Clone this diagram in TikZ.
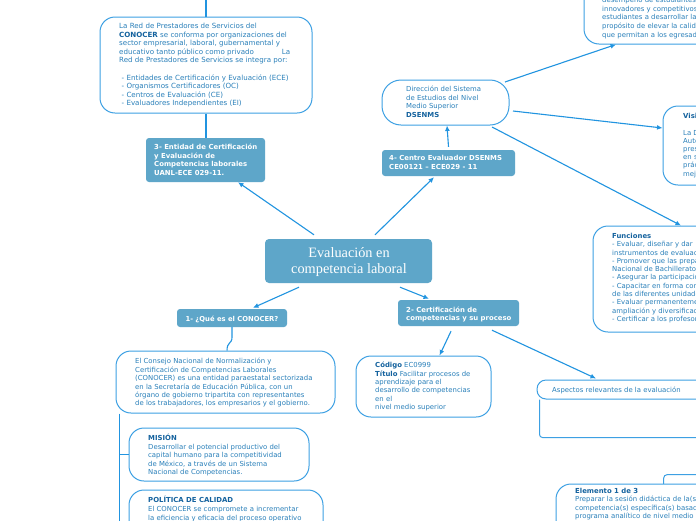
\documentclass[tikz,border=0pt]{standalone}
\usepackage{fontspec}
\setmainfont{DejaVu Sans}
\newfontfamily\titlefont{Liberation Serif}
\usetikzlibrary{arrows.meta}
\definecolor{txtc}{RGB}{42,128,186}
\definecolor{boldc}{RGB}{20,98,158}
\definecolor{bordc}{RGB}{61,160,227}
\definecolor{linec}{RGB}{33,148,224}
\definecolor{hdrc}{RGB}{94,166,201}
\begin{document}
\begin{tikzpicture}[x=1pt,y=-1pt,
  box/.style={draw=bordc, line width=1pt, fill=white, rounded corners=15pt, inner sep=0pt},
  hdr/.style={fill=hdrc, draw=none, rounded corners=3pt, inner sep=0pt},
  txt/.style={anchor=north west, inner sep=0pt, align=left, text=txtc,
    font=\fontsize{6.9}{8.6}\selectfont, execute at begin node={\rule{0pt}{6pt}}},
  wtxt/.style={txt, text=white, font=\fontsize{6.9}{8.5}\selectfont\bfseries},
  conn/.style={draw=linec, line width=1.1pt},
  arr/.style={conn, -{Latex[length=5.5pt,width=5pt]}}
]
\useasboundingbox (0,0) rectangle (696,520);
\fill[white] (0,0) rectangle (696,520);
\clip (0,0) rectangle (696,520);

% ---------- boxes ----------
\node[box, minimum width=212pt, minimum height=96pt] (red) at (206,65) {};
\node[hdr, minimum width=119pt, minimum height=44pt] (h3) at (205.5,160) {};
\node[box, rounded corners=19pt, minimum width=127pt, minimum height=45pt] (dir) at (445.5,102.5) {};
\node[hdr, minimum width=133pt, minimum height=26pt] (h4) at (448.5,163) {};
\node[box, minimum width=216pt, minimum height=104pt] (tr) at (692,-8) {};
\node[box, minimum width=137pt, minimum height=79pt] (vis) at (731.5,145.5) {};
\node[box, minimum width=207pt, minimum height=106pt] (fun) at (696.5,279) {};
\node[hdr, rounded corners=4pt, minimum width=167pt, minimum height=44pt] (central) at (348.5,261) {};
\node[hdr, minimum width=110pt, minimum height=18pt] (h1) at (232,318) {};
\node[box, minimum width=219pt, minimum height=62pt] (conocer) at (225.5,382) {};
\node[box, minimum width=180pt, minimum height=53pt] (mision) at (219,454.5) {};
\node[box, minimum width=194pt, minimum height=70pt] (politica) at (226,525) {};
\node[hdr, minimum width=121pt, minimum height=26pt] (h2) at (458.5,313) {};
\node[box, minimum width=135pt, minimum height=61pt] (codigo) at (423.5,386.5) {};
\node[box, rounded corners=9pt, minimum width=263pt, minimum height=19pt] (asp) at (668.5,389.5) {};
\node[box, rounded corners=4pt, minimum width=200pt, minimum height=100pt, anchor=north west] (elemback) at (663,474) {};
\node[box, minimum width=244pt, minimum height=76pt] (elem) at (678,522) {};

% ---------- texts ----------
\node[txt, font=\fontsize{7.1}{8.6}\selectfont] (redtxt) at (119,23) {La Red de Prestadores de Servicios del\\
{\color{boldc}\bfseries CONOCER} se conforma por organizaciones del\\
sector empresarial, laboral, gubernamental y\\
educativo tanto público como privado\hspace{28pt}La\\
Red de Prestadores de Servicios se integra por:\\
~\\
\hspace*{2.5pt}- Entidades de Certificación y Evaluación (ECE)\\
\hspace*{2.5pt}- Organismos Certificadores (OC)\\
\hspace*{2.5pt}- Centros de Evaluación (CE)\\
\hspace*{2.5pt}- Evaluadores Independientes (EI)};

\node[wtxt] (h3txt) at (154,144) {3- Entidad de Certificación\\y Evaluación de\\Competencias laborales\\UANL-ECE 029-11.};

\node[txt] (dirtxt) at (406,86) {Dirección del Sistema\\de Estudios del Nivel\\Medio Superior\\{\color{boldc}\bfseries DSENMS}};

\node[wtxt] (h4txt) at (389,155.5) {4- Centro Evaluador DSENMS\\CE00121 – ECE029 - 11};

\node[txt, font=\fontsize{6.9}{8.7}\selectfont] (trtxt) at (602,-3) {desempeño de estudiantes\\innovadores y competitivos\\estudiantes a desarrollar la\\propósito de elevar la calidad\\que permitan a los egresados};

\node[txt, font=\fontsize{6.9}{8.2}\selectfont] (vistxt) at (683,113) {{\color{boldc}\bfseries Visión}\\~\\La Dirección\\Autónoma\\presencia\\en su\\práctica\\mejora};

\node[txt, font=\fontsize{6.9}{8.3}\selectfont] (funtxt) at (612,233) {{\color{boldc}\bfseries Funciones}\\
- Evaluar, diseñar y dar\\
instrumentos de evaluación\\
- Promover que las preparatorias\\
Nacional de Bachillerato\\
- Asegurar la participación\\
- Capacitar en forma continua\\
de las diferentes unidades\\
- Evaluar permanentemente\\
ampliación y diversificación\\
- Certificar a los profesores};

\node[align=center, text=white, inner sep=0pt, font=\fontsize{14.3}{16}\titlefont] (centraltxt) at (349,262) {Evaluación en\\competencia laboral};

\node[text=white, inner sep=0pt, font=\fontsize{6.8}{8}\selectfont\bfseries] (h1txt) at (232,319) {1- ¿Qué es el CONOCER?};

\node[txt, font=\fontsize{6.9}{8.45}\selectfont] (conotxt) at (135,358) {El Consejo Nacional de Normalización y\\
Certificación de Competencias Laborales\\
(CONOCER) es una entidad paraestatal sectorizada\\
en la Secretaría de Educación Pública, con un\\
órgano de gobierno tripartita con representantes\\
de los trabajadores, los empresarios y el gobierno.};

\node[txt, font=\fontsize{6.9}{8.5}\selectfont] (mistxt) at (148,434) {{\color{boldc}\bfseries MISIÓN}\\
Desarrollar el potencial productivo del\\
capital humano para la competitividad\\
de México, a través de un Sistema\\
Nacional de Competencias.};

\node[txt, font=\fontsize{6.9}{8.8}\selectfont] (poltxt) at (148,496) {{\color{boldc}\bfseries POLÍTICA DE CALIDAD}\\
El CONOCER se compromete a incrementar\\
la eficiencia y eficacia del proceso operativo};

\node[wtxt, font=\fontsize{6.9}{8}\selectfont\bfseries] (h2txt) at (406,307) {2- Certificación de\\competencias y su proceso};

\node[txt, font=\fontsize{6.9}{8.4}\selectfont] (codtxt) at (375,362) {{\color{boldc}\bfseries Código} EC0999\\
{\color{boldc}\bfseries Título} Facilitar procesos de\\
aprendizaje para el\\
desarrollo de competencias\\
en el\\
nivel medio superior};

\node[txt] (asptxt) at (552,386) {Aspectos relevantes de la evaluación};

\node[txt, font=\fontsize{6.9}{8.3}\selectfont] (elemtxt) at (575,488) {{\color{boldc}\bfseries Elemento 1 de 3}\\
Preparar la sesión didáctica de la(s)\\
competencia(s) específica(s) basada(s)\\
programa analítico de nivel medio};

% ---------- connectors ----------
\coordinate (offtop) at (206,-10);
\draw[conn] (red.north) -- (offtop);
\draw[conn] (red.south) -- (red.south |- h3.north);
\draw[arr] ([xshift=-34.5pt,yshift=4pt]central.north) -- ([xshift=32.5pt]h3.south);
\draw[arr] ([xshift=26.5pt,yshift=4pt]central.north) -- ([xshift=-14.5pt,yshift=-1pt]h4.south);
\draw[arr] ([yshift=3pt]h4.north) -- ([xshift=1.5pt]dir.south);
\draw[arr] ([xshift=59.5pt,yshift=20.5pt]dir.center) -- ([xshift=-76pt]tr.south);
\draw[arr] ([xshift=67.5pt,yshift=-8.5pt]dir.center) -- ([yshift=17.5pt]vis.west);
\draw[arr] ([xshift=46.5pt,yshift=-24.5pt]dir.center) -- ([xshift=-15.5pt]fun.north);
\draw[arr] ([xshift=-49.5pt,yshift=-4pt]central.south) -- ([xshift=21pt,yshift=1pt]h1.north);
\draw[arr] ([xshift=51.5pt,yshift=-4pt]central.south) -- ([xshift=-29.5pt,yshift=1pt]h2.north);
\draw[conn] (h1.south) -- ++(0,10) .. controls +(0,7) and +(0,-9) .. ([xshift=1.5pt]conocer.north);
\coordinate (trunk) at ([xshift=4pt]conocer.south west);
\draw[conn, line width=1.7pt] (trunk) -- ++(0,150);
\draw[conn] (trunk |- mision.west) -- (mision.west);
\draw[conn] (trunk |- politica.west) -- (politica.west);
\draw[arr] ([xshift=-7.5pt,yshift=-5pt]h2.south) -- ([xshift=16pt]codigo.north);
\draw[arr] ([xshift=33.5pt,yshift=-4pt]h2.south) -- ([xshift=-72.5pt,yshift=1pt]asp.north);
\draw[draw=bordc, line width=1pt, rounded corners=3pt] ([xshift=3pt]asp.south west) -- ++(0,38) -- ++(300,0);
\end{tikzpicture}
\end{document}
